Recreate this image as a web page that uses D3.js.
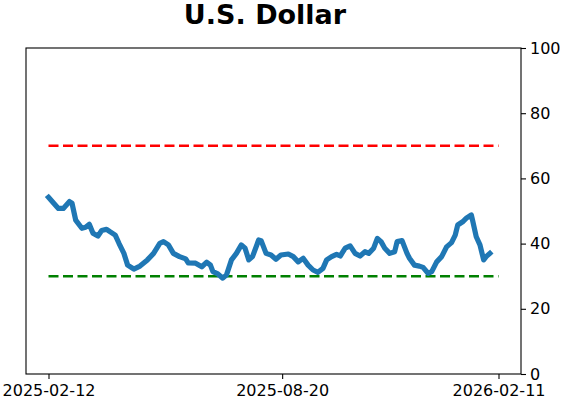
<!DOCTYPE html>
<html>
<head>
<meta charset="utf-8">
<script src="https://cdn.jsdelivr.net/npm/d3@7"></script>
<style>
  body { margin: 0; background: #fff; }
  svg { font-family: "DejaVu Sans", sans-serif; }
  .axis line { stroke: #000; stroke-width: 1.1; }
  .axis text { font-family: "DejaVu Sans", sans-serif; font-size: 16px; fill: #000; }
</style>
</head>
<body>
<svg id="chart"></svg>
<script>
// data
var dates = [
  "2025-02-12","2025-02-15","2025-02-20","2025-02-24","2025-03-01","2025-03-03","2025-03-06","2025-03-11",
  "2025-03-14","2025-03-17","2025-03-20","2025-03-24","2025-03-27","2025-03-31","2025-04-03","2025-04-07",
  "2025-04-10","2025-04-14","2025-04-17","2025-04-22","2025-04-27","2025-05-03","2025-05-08","2025-05-13",
  "2025-05-16","2025-05-20","2025-05-24","2025-05-29","2025-06-03","2025-06-05","2025-06-11","2025-06-16",
  "2025-06-20","2025-06-23","2025-06-25","2025-06-29","2025-07-03","2025-07-06","2025-07-10","2025-07-14",
  "2025-07-18","2025-07-21","2025-07-24","2025-07-27","2025-08-01","2025-08-03","2025-08-07","2025-08-11",
  "2025-08-15","2025-08-19","2025-08-25","2025-08-29","2025-09-02","2025-09-06","2025-09-10","2025-09-14",
  "2025-09-18","2025-09-22","2025-09-25","2025-09-29","2025-10-03","2025-10-06","2025-10-10","2025-10-14",
  "2025-10-18","2025-10-22","2025-10-26","2025-10-29","2025-11-02","2025-11-05","2025-11-08","2025-11-11",
  "2025-11-15","2025-11-19","2025-11-21","2025-11-25","2025-11-29","2025-12-01","2025-12-05","2025-12-09",
  "2025-12-12","2025-12-16","2025-12-19","2025-12-23","2025-12-27","2025-12-31","2026-01-04","2026-01-07",
  "2026-01-09","2026-01-13","2026-01-16","2026-01-20","2026-01-21","2026-01-24","2026-01-27","2026-01-30",
  "2026-02-01","2026-02-04"
];
var values = [
  54.2,52.9,50.8,50.8,52.9,52.4,47.2,44.7,
  45.0,45.9,43.2,42.3,44.0,44.4,43.6,42.6,
  40.1,37.0,33.4,32.2,33.1,35.0,37.0,40.1,
  40.6,39.6,37.0,36.0,35.3,34.1,34.0,32.9,
  34.3,33.4,31.4,30.7,29.4,30.4,35.0,37.0,
  39.6,38.6,35.0,36.0,41.1,40.9,37.0,36.5,
  35.2,36.5,36.8,36.0,34.4,35.5,33.4,31.9,
  31.2,32.4,35.0,36.0,36.7,36.2,38.6,39.3,
  37.0,36.2,37.5,37.0,38.6,41.6,40.6,38.6,
  37.0,37.5,40.6,40.9,37.0,35.5,33.4,33.1,
  32.7,30.9,31.4,34.4,36.0,39.0,40.3,42.6,
  45.7,46.7,47.8,48.8,47.2,42.1,39.6,35.0,
  36.0,37.0
];
var hlineStart = "2025-02-12";
var hlineEnd = "2026-02-11";
var upperLevel = 70;
var lowerLevel = 30;
var xTickLabels = ["2025-02-12", "2025-08-20", "2026-02-11"];
var yTicks = [0, 20, 40, 60, 80, 100];

var W = 562, H = 402;
var margin = {top: 48, right: 41, bottom: 28, left: 26},
    width = W - margin.left - margin.right,
    height = H - margin.top - margin.bottom;

var parse = d3.timeParse("%Y-%m-%d");
var data = dates.map(function(d, i) { return {date: parse(d), value: values[i]}; });

var t0 = parse(hlineStart), t1 = parse(hlineEnd);
var pad = (t1 - t0) * 0.05;

var x = d3.scaleTime()
    .domain([new Date(+t0 - pad), new Date(+t1 + pad)])
    .range([0, width]);
var y = d3.scaleLinear().domain([0, 100]).range([height, 0]);

var svg = d3.select("#chart")
    .attr("width", W)
    .attr("height", H);

svg.append("text")
    .attr("x", W / 2 - 16)
    .attr("y", 24)
    .attr("text-anchor", "middle")
    .style("font-size", "27px")
    .style("font-weight", "bold")
    .text("U.S. Dollar");

var g = svg.append("g")
    .attr("transform", "translate(" + margin.left + "," + margin.top + ")");

// threshold lines
[[upperLevel, "#ff0000"], [lowerLevel, "#008000"]].forEach(function(h) {
  g.append("line")
    .attr("x1", x(t0)).attr("x2", x(t1))
    .attr("y1", y(h[0])).attr("y2", y(h[0]))
    .attr("stroke", h[1])
    .attr("stroke-width", 2.6)
    .attr("stroke-dasharray", "10,4.5");
});

var line = d3.line()
    .x(function(d) { return x(d.date); })
    .y(function(d) { return y(d.value); });

g.append("path")
    .datum(data)
    .attr("fill", "none")
    .attr("stroke", "#1f77b4")
    .attr("stroke-width", 5.2)
    .attr("stroke-linejoin", "round")
    .attr("stroke-linecap", "square")
    .attr("d", line);

// frame
g.append("rect")
    .attr("width", width)
    .attr("height", height)
    .attr("fill", "none")
    .attr("stroke", "#000")
    .attr("stroke-width", 1.1);

var xAxis = d3.axisBottom(x)
    .tickValues(xTickLabels.map(parse))
    .tickFormat(d3.timeFormat("%Y-%m-%d"))
    .tickSize(5)
    .tickPadding(6);

g.append("g")
    .attr("class", "x axis")
    .attr("transform", "translate(0," + height + ")")
    .call(xAxis)
    .call(function(s) { s.select(".domain").remove(); });

var yAxis = d3.axisRight(y)
    .tickValues(yTicks)
    .tickSize(5)
    .tickPadding(4);

g.append("g")
    .attr("class", "y axis")
    .attr("transform", "translate(" + width + ",0)")
    .call(yAxis)
    .call(function(s) { s.select(".domain").remove(); });
</script>
</body>
</html>
